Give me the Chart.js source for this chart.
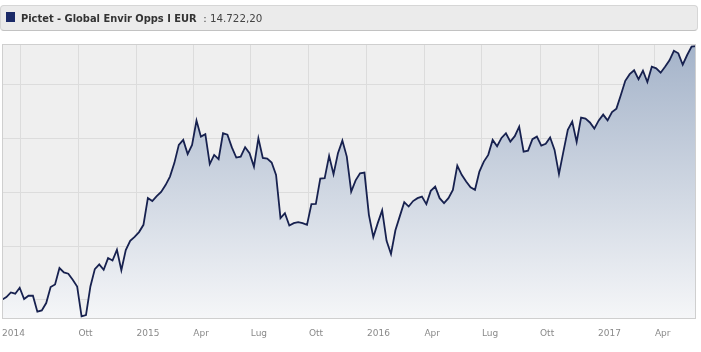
<!DOCTYPE html>
<html>
<head>
<meta charset="utf-8">
<script src="https://cdn.jsdelivr.net/npm/chart.js@4.4.1/dist/chart.umd.min.js"></script>
<style>
    body { margin: 0; background: #ffffff; }
    #wrap { position: relative; width: 701px; height: 352px; overflow: hidden; }
    #graph { position: absolute; left: 0; top: 0; }
    #head {
        position: absolute; left: 0; top: 5px; width: 696px; height: 24px;
        background: #ebebeb; border: 1px solid #d6d6d6; border-bottom-color: #c2c2c2;
        border-radius: 4px; font-family: "DejaVu Sans", sans-serif; color: #333;
    }
    #head .box { position: absolute; left: 5px; top: 6px; width: 9px; height: 10px; background: #1b2a68; }
    #head .txt { position: absolute; left: 20px; top: -1px; line-height: 24px; white-space: nowrap; }
    #head b { font-size: 9.9px; }
    #head span.val { font-size: 10.3px; color: #444; }
</style>
</head>
<body>
<div id="wrap">
    <canvas id="graph" width="701" height="352"></canvas>
    <div id="head">
        <div class="box"></div>
        <div class="txt"><b>Pictet - Global Envir Opps I EUR</b><span class="val"> &nbsp;: 14.722,20</span></div>
    </div>
</div>
<script>
//Fund name + first weekly date of the series
var fund_name = 'Pictet - Global Envir Opps I EUR';
var first_week = '2014-06-02';

//Weekly NAV values (growth of 10.000 EUR)
var nav_values = [
    10000, 10050, 10136, 10112, 10223, 10013, 10074, 10074, 9777, 9801,
    9939, 10236, 10285, 10590, 10508, 10484, 10372, 10247, 9689, 9715,
    10247, 10571, 10657, 10558, 10776, 10731, 10930, 10549, 10925, 11098,
    11172, 11260, 11395, 11894, 11838, 11931, 12009, 12136, 12294, 12549,
    12884, 12977, 12713, 12884, 13336, 13038, 13083, 12527, 12698, 12620,
    13101, 13074, 12837, 12648, 12666, 12841, 12729, 12480, 13008, 12642,
    12629, 12555, 12326, 11520, 11613, 11382, 11427, 11446, 11427, 11395,
    11781, 11786, 12257, 12264, 12679, 12339, 12729, 12964, 12666, 12015,
    12223, 12354, 12368, 11581, 11167, 11427, 11665, 11098, 10852, 11293,
    11557, 11818, 11736, 11838, 11892, 11922, 11781, 12028, 12108, 11892,
    11799, 11892, 12047, 12497, 12326, 12201, 12093, 12047, 12387, 12573,
    12698, 12977, 12860, 13014, 13101, 12945, 13046, 13224, 12759, 12776,
    12992, 13038, 12871, 12903, 13023, 12791, 12341, 12759, 13163, 13317,
    12940, 13392, 13373, 13302, 13187, 13340, 13448, 13340, 13494, 13559,
    13814, 14078, 14201, 14273, 14106, 14266, 14056, 14340, 14310, 14229,
    14340, 14460, 14636, 14589, 14377, 14558, 14713, 14722.20
];

//x axis ticks (dates) and their labels, '' = grid line only
var tick_dates = ['2014-06-02', '2014-07-01', '2014-10-01', '2015-01-01', '2015-04-01', '2015-07-01',
    '2015-10-01', '2016-01-01', '2016-04-01', '2016-07-01', '2016-10-01', '2017-01-01', '2017-04-01'];
var tick_labels = ['2014', '', 'Ott', '2015', 'Apr', 'Lug', 'Ott', '2016', 'Apr', 'Lug', 'Ott', '2017', 'Apr'];

//y grid lines
var y_grid = [10000, 11000, 12000, 13000, 14000];
var y_min = 9660;
var y_max = 14763;

const DAY = 86400000;
function to_day(s) {
    return Date.parse(s + 'T00:00:00Z') / DAY;
}

//build points: one value per week
var start_day = to_day(first_week);
var points = [];
for (const i in nav_values) {
    points.push({ x: start_day + 7 * i, y: nav_values[i] });
}
var tick_days = tick_dates.map(to_day);

//grey plot background + frame
const plot_frame = {
    id: 'plot_frame',
    beforeDraw(chart) {
        const a = chart.chartArea;
        const ctx = chart.ctx;
        ctx.save();
        ctx.fillStyle = '#efefef';
        ctx.fillRect(a.left, a.top, a.right - a.left, a.bottom - a.top);
        ctx.restore();
    },
    afterDraw(chart) {
        const a = chart.chartArea;
        const ctx = chart.ctx;
        ctx.save();
        ctx.strokeStyle = '#cfcfcf';
        ctx.lineWidth = 1;
        ctx.strokeRect(Math.round(a.left) + 0.5, Math.round(a.top) + 0.5,
            Math.round(a.right - a.left) - 1, Math.round(a.bottom - a.top));
        ctx.restore();
    }
};

function area_fill(context) {
    const a = context.chart.chartArea;
    if (!a) return 'rgba(164,179,201,0.6)';
    const g = context.chart.ctx.createLinearGradient(0, a.top, 0, a.bottom);
    g.addColorStop(0, '#a4b3c9');
    g.addColorStop(1, '#f5f6f8');
    return g;
}

new Chart(document.getElementById('graph'), {
    type: 'line',
    data: {
        datasets: [{
            label: fund_name,
            data: points,
            borderColor: '#17214f',
            borderWidth: 1.8,
            backgroundColor: area_fill,
            fill: 'start',
            pointRadius: 0,
            tension: 0
        }]
    },
    options: {
        responsive: false,
        animation: false,
        layout: { padding: { left: 2, top: 44, right: 5, bottom: 0 } },
        plugins: { legend: { display: false }, tooltip: { enabled: false } },
        scales: {
            x: {
                type: 'linear',
                bounds: 'data',
                min: start_day,
                max: start_day + 7 * (nav_values.length - 1),
                afterBuildTicks: (s) => { s.ticks = tick_days.map(v => ({ value: v })); },
                afterFit: (s) => { s.height = 34; s.paddingLeft = 0; s.paddingRight = 0; },
                border: { display: false },
                grid: {
                    drawTicks: false,
                    color: (c) => c.index === 0 ? 'rgba(0,0,0,0)' : '#dcdcdc'
                },
                ticks: {
                    autoSkip: false,
                    maxRotation: 0,
                    align: 'start',
                    padding: 10,
                    color: '#8a8a8a',
                    font: { family: 'DejaVu Sans', size: 9 },
                    callback: (v, i) => tick_labels[i]
                }
            },
            y: {
                min: y_min,
                max: y_max,
                afterBuildTicks: (s) => { s.ticks = y_grid.map(v => ({ value: v })); },
                afterFit: (s) => { s.width = 0; },
                border: { display: false },
                grid: { drawTicks: false, color: '#dcdcdc' },
                ticks: { display: false }
            }
        }
    },
    plugins: [plot_frame]
});
</script>
</body>
</html>
